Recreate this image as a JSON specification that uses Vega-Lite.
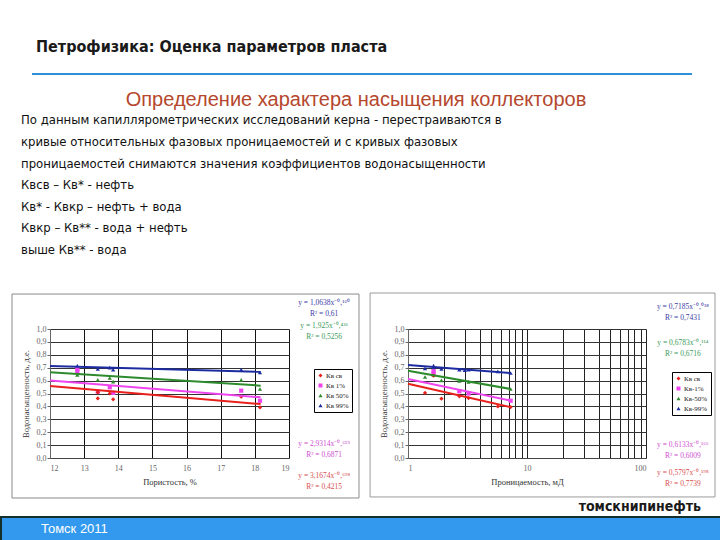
{
  "$schema": "https://vega.github.io/schema/vega-lite/v6.json",
  "padding": {"left": 0, "top": 39, "right": 0, "bottom": 0},
  "background": "white",
  "spacing": 0,
  "resolve": {"scale": {"color": "independent", "shape": "independent", "stroke": "independent"}, "legend": {"color": "independent", "shape": "independent", "stroke": "independent"}},
  "config": {"view": {"stroke": null}, "font": "Liberation Sans", "axis": {"labelOverlap": false}},
  "datasets": {
    "leftPts": [
      {"series": "Кв 99%", "x": 12.8, "y": 0.715},
      {"series": "Кв 99%", "x": 13.4, "y": 0.69},
      {"series": "Кв 99%", "x": 13.75, "y": 0.70},
      {"series": "Кв 99%", "x": 13.85, "y": 0.685},
      {"series": "Кв 99%", "x": 17.6, "y": 0.685},
      {"series": "Кв 99%", "x": 18.15, "y": 0.663},
      {"series": "Кв 50%", "x": 12.8, "y": 0.645},
      {"series": "Кв 50%", "x": 13.4, "y": 0.605},
      {"series": "Кв 50%", "x": 13.75, "y": 0.62},
      {"series": "Кв 50%", "x": 13.85, "y": 0.592},
      {"series": "Кв 50%", "x": 17.6, "y": 0.605},
      {"series": "Кв 50%", "x": 18.15, "y": 0.535},
      {"series": "Кв 1%", "x": 12.8, "y": 0.688},
      {"series": "Кв 1%", "x": 12.8, "y": 0.67},
      {"series": "Кв 1%", "x": 13.4, "y": 0.515},
      {"series": "Кв 1%", "x": 13.75, "y": 0.548},
      {"series": "Кв 1%", "x": 13.85, "y": 0.505},
      {"series": "Кв 1%", "x": 17.6, "y": 0.522},
      {"series": "Кв 1%", "x": 18.15, "y": 0.444},
      {"series": "Кв св", "x": 13.4, "y": 0.509},
      {"series": "Кв св", "x": 13.4, "y": 0.462},
      {"series": "Кв св", "x": 13.75, "y": 0.50},
      {"series": "Кв св", "x": 13.85, "y": 0.455},
      {"series": "Кв св", "x": 17.6, "y": 0.475},
      {"series": "Кв св", "x": 18.15, "y": 0.392}
    ],
    "leftTrend": [
      {"series": "Кв 99%", "x": 12, "y": 0.714},
      {"series": "Кв 99%", "x": 18.17, "y": 0.668},
      {"series": "Кв 50%", "x": 12, "y": 0.665},
      {"series": "Кв 50%", "x": 18.17, "y": 0.561},
      {"series": "Кв 1%", "x": 12, "y": 0.60},
      {"series": "Кв 1%", "x": 18.17, "y": 0.47},
      {"series": "Кв св", "x": 12, "y": 0.558},
      {"series": "Кв св", "x": 18.17, "y": 0.418}
    ],
    "rightPts": [
      {"series": "Кв-99%", "x": 1.39, "y": 0.695},
      {"series": "Кв-99%", "x": 1.64, "y": 0.716},
      {"series": "Кв-99%", "x": 1.64, "y": 0.70},
      {"series": "Кв-99%", "x": 1.91, "y": 0.69},
      {"series": "Кв-99%", "x": 2.7, "y": 0.685},
      {"series": "Кв-99%", "x": 3.0, "y": 0.68},
      {"series": "Кв-99%", "x": 3.23, "y": 0.685},
      {"series": "Кв-99%", "x": 5.69, "y": 0.672},
      {"series": "Кв-99%", "x": 7.28, "y": 0.659},
      {"series": "Кв-50%", "x": 1.39, "y": 0.628},
      {"series": "Кв-50%", "x": 1.64, "y": 0.645},
      {"series": "Кв-50%", "x": 1.91, "y": 0.602},
      {"series": "Кв-50%", "x": 2.7, "y": 0.597},
      {"series": "Кв-50%", "x": 3.23, "y": 0.59},
      {"series": "Кв-50%", "x": 7.28, "y": 0.535},
      {"series": "Кв-1%", "x": 1.64, "y": 0.672},
      {"series": "Кв-1%", "x": 1.64, "y": 0.655},
      {"series": "Кв-1%", "x": 2.7, "y": 0.517},
      {"series": "Кв-1%", "x": 3.23, "y": 0.50},
      {"series": "Кв-1%", "x": 7.28, "y": 0.444},
      {"series": "Кв св", "x": 1.39, "y": 0.504},
      {"series": "Кв св", "x": 1.64, "y": 0.638},
      {"series": "Кв св", "x": 1.91, "y": 0.46},
      {"series": "Кв св", "x": 2.7, "y": 0.478},
      {"series": "Кв св", "x": 3.23, "y": 0.465},
      {"series": "Кв св", "x": 5.69, "y": 0.40},
      {"series": "Кв св", "x": 7.28, "y": 0.395}
    ],
    "rightTrend": [
      {"series": "Кв-99%", "x": 1, "y": 0.721},
      {"series": "Кв-99%", "x": 7.28, "y": 0.659},
      {"series": "Кв-50%", "x": 1, "y": 0.677},
      {"series": "Кв-50%", "x": 7.28, "y": 0.535},
      {"series": "Кв-1%", "x": 1, "y": 0.612},
      {"series": "Кв-1%", "x": 7.28, "y": 0.444},
      {"series": "Кв св", "x": 1, "y": 0.576},
      {"series": "Кв св", "x": 7.28, "y": 0.395}
    ]
  },
  "vconcat": [
    {
      "spacing": 30,
      "hconcat": [
        {"width": 1, "height": 17, "data": {"values": []}, "mark": "point", "encoding": {}},
        {
          "width": 660, "height": 2,
          "view": {"fill": "#2f8fd8", "stroke": null},
          "title": {"text": "Петрофизика: Оценка параметров пласта", "anchor": "start", "dx": 4, "font": "DejaVu Sans Condensed, DejaVu Sans, sans-serif", "fontSize": 16, "fontWeight": "bold", "color": "#1a1a1a", "offset": 18},
          "data": {"values": []}, "mark": "point", "encoding": {}
        }
      ]
    },
    {
      "spacing": 30,
      "hconcat": [
        {"width": 1, "height": 1, "data": {"values": []}, "mark": "point", "encoding": {}},
        {
          "width": 660, "height": 1,
          "title": {"text": "Определение характера насыщения коллекторов", "anchor": "middle", "dx": -6, "font": "Liberation Sans", "fontSize": 20, "fontWeight": "normal", "color": "#b5472d", "offset": 3},
          "data": {"values": []}, "mark": "point", "encoding": {}
        }
      ]
    },
    {
      "width": 660, "height": 33,
      "title": {
        "text": [
          "По данным капиллярометрических исследований керна - перестраиваются в",
          "кривые относительных фазовых проницаемостей и с кривых фазовых",
          "проницаемостей снимаются значения коэффициентов водонасыщенности",
          "Квсв – Кв*  - нефть",
          "Кв* - Квкр – нефть + вода",
          "Квкр – Кв** - вода + нефть",
          "выше Кв**  - вода"
        ],
        "anchor": "start", "dx": 20, "font": "DejaVu Sans Condensed, DejaVu Sans, sans-serif", "fontSize": 13, "lineHeight": 21.6, "fontWeight": "normal", "color": "#111111", "offset": 2
      },
      "data": {"values": []}, "mark": "point", "encoding": {}
    },
    {
      "spacing": 9,
      "resolve": {"scale": {"color": "independent", "shape": "independent", "stroke": "independent"}, "legend": {"color": "independent", "shape": "independent", "stroke": "independent"}},
      "hconcat": [
        {"width": 1, "height": 171, "data": {"values": []}, "mark": "point", "encoding": {}},
        {
          "width": 239, "height": 129,
          "layer": [
            {
              "data": {"values": [{}]},
              "mark": {"type": "rect", "filled": false, "stroke": "#8a8a8a", "strokeWidth": 1, "clip": false},
              "encoding": {"x": {"datum": 10.887}, "x2": {"datum": 21.05}, "y": {"datum": 1.271}, "y2": {"datum": -0.31}}
            },
            {
              "data": {"name": "leftPts"},
              "mark": {"type": "point", "filled": true, "size": 18, "opacity": 1},
              "encoding": {
                "x": {"field": "x", "type": "quantitative", "scale": {"domain": [12, 19], "nice": false, "zero": false},
                  "axis": {"title": "Пористость, %", "values": [12, 13, 14, 15, 16, 17, 18, 19], "tickCount": 8, "format": "d", "labelOverlap": false, "grid": true, "gridColor": "#111111", "gridWidth": 1, "tickSize": 0, "labelPadding": 6, "labelFont": "Liberation Serif", "labelFontSize": 8, "labelColor": "#666666", "titleFont": "Liberation Serif", "titleFontSize": 8.5, "titleFontWeight": "normal", "titleColor": "#333333", "titlePadding": 5, "domainColor": "#444444"}},
                "y": {"field": "y", "type": "quantitative", "scale": {"domain": [0, 1], "nice": false},
                  "axis": {"title": "Водонасыщенность, д.е.", "values": [0, 0.1, 0.2, 0.3, 0.4, 0.5, 0.6, 0.7, 0.8, 0.9, 1], "tickCount": 11, "labelOverlap": false, "labelExpr": "replace(format(datum.value, '.1f'), '.', ',')", "grid": true, "gridColor": "#333333", "gridWidth": 1, "tickSize": 3, "tickColor": "#666666", "labelPadding": 1, "labelFont": "Liberation Serif", "labelFontSize": 8, "labelColor": "#666666", "titleFont": "Liberation Serif", "titleFontSize": 8.5, "titleFontWeight": "normal", "titleColor": "#333333", "titlePadding": 6, "domainColor": "#666666"}},
                "color": {"field": "series", "type": "nominal", "scale": {"domain": ["Кв св", "Кв 1%", "Кв 50%", "Кв 99%"], "range": ["#e8201c", "#ee44ee", "#2d8a2d", "#1c2ca0"]},
                  "legend": {"title": null, "orient": "none", "legendX": 264, "legendY": 40, "strokeColor": "#000000", "fillColor": "#ffffff", "padding": 3, "labelFont": "Liberation Serif", "labelFontSize": 7, "labelColor": "#222222", "symbolSize": 16, "symbolStrokeWidth": 0, "rowPadding": 2, "labelOffset": 2}},
                "shape": {"field": "series", "type": "nominal", "scale": {"domain": ["Кв св", "Кв 1%", "Кв 50%", "Кв 99%"], "range": ["diamond", "square", "triangle-up", "triangle-up"]},
                  "legend": {"title": null, "orient": "none", "legendX": 264, "legendY": 40, "strokeColor": "#000000", "fillColor": "#ffffff", "padding": 3, "labelFont": "Liberation Serif", "labelFontSize": 7, "labelColor": "#222222", "symbolSize": 16, "symbolStrokeWidth": 0, "rowPadding": 2, "labelOffset": 2}}
              }
            },
            {
              "data": {"name": "leftTrend"},
              "mark": {"type": "line", "strokeWidth": 2},
              "encoding": {
                "x": {"field": "x", "type": "quantitative"},
                "y": {"field": "y", "type": "quantitative"},
                "stroke": {"field": "series", "type": "nominal", "scale": {"domain": ["Кв св", "Кв 1%", "Кв 50%", "Кв 99%"], "range": ["#e8201c", "#ee44ee", "#2d8a2d", "#1c2ca0"]},
                  "legend": {"title": null, "orient": "none", "legendX": 264, "legendY": 40, "strokeColor": "#000000", "fillColor": "#ffffff", "padding": 3, "labelFont": "Liberation Serif", "labelFontSize": 7, "labelColor": "#222222", "symbolSize": 16, "symbolStrokeWidth": 0, "rowPadding": 2, "labelOffset": 2}}
              }
            },
            {
              "data": {"values": [{"eq": "y = 1,0638x⁻⁰,¹⁶⁰\nR² = 0,61"}]},
              "mark": {"type": "text", "lineBreak": "\n", "font": "Liberation Serif", "fontSize": 7.5, "lineHeight": 11, "color": "#4040a8", "clip": false},
              "encoding": {"x": {"datum": 20.03}, "y": {"datum": 1.2}, "text": {"field": "eq"}}
            },
            {
              "data": {"values": [{"eq": "y = 1,925x⁻⁰,⁴³⁶\nR² = 0,5256"}]},
              "mark": {"type": "text", "lineBreak": "\n", "font": "Liberation Serif", "fontSize": 7.5, "lineHeight": 11, "color": "#3c9a5a", "clip": false},
              "encoding": {"x": {"datum": 20.03}, "y": {"datum": 1.023}, "text": {"field": "eq"}}
            },
            {
              "data": {"values": [{"eq": "y = 2,9314x⁻⁰,⁶⁵⁵\nR² = 0,6871"}]},
              "mark": {"type": "text", "lineBreak": "\n", "font": "Liberation Serif", "fontSize": 7.5, "lineHeight": 11, "color": "#d050d0", "clip": false},
              "encoding": {"x": {"datum": 20.03}, "y": {"datum": 0.108}, "text": {"field": "eq"}}
            },
            {
              "data": {"values": [{"eq": "y = 3,1674x⁻⁰,⁶⁹⁸\nR² = 0,4215"}]},
              "mark": {"type": "text", "lineBreak": "\n", "font": "Liberation Serif", "fontSize": 7.5, "lineHeight": 11, "color": "#d85050", "clip": false},
              "encoding": {"x": {"datum": 20.03}, "y": {"datum": -0.14}, "text": {"field": "eq"}}
            }
          ]
        },
        {
          "width": 238, "height": 129,
          "layer": [
            {
              "data": {"values": [{}]},
              "mark": {"type": "rect", "filled": false, "stroke": "#9a9a9a", "strokeWidth": 1, "clip": false},
              "encoding": {"x": {"datum": 0.48}, "x2": {"datum": 380}, "y": {"datum": 1.279}, "y2": {"datum": -0.302}}
            },
            {
              "data": {"name": "rightPts"},
              "mark": {"type": "point", "filled": true, "size": 18, "opacity": 1},
              "encoding": {
                "x": {"field": "x", "type": "quantitative", "scale": {"type": "log", "domain": [1, 100], "nice": false},
                  "axis": {"title": "Проницаемость, мД", "values": [1, 2, 3, 4, 5, 6, 7, 8, 9, 10, 20, 30, 40, 50, 60, 70, 80, 90, 100], "format": "d", "labelOverlap": false, "labelExpr": "datum.value == 1 || datum.value == 10 || datum.value == 100 ? datum.label : ''", "grid": true, "gridColor": "#222222", "gridWidth": 1, "tickSize": 0, "labelPadding": 6, "labelFont": "Liberation Serif", "labelFontSize": 8, "labelColor": "#666666", "titleFont": "Liberation Serif", "titleFontSize": 8.5, "titleFontWeight": "normal", "titleColor": "#333333", "titlePadding": 5, "domainColor": "#444444"}},
                "y": {"field": "y", "type": "quantitative", "scale": {"domain": [0, 1], "nice": false},
                  "axis": {"title": "Водонасыщенность, д.е.", "values": [0, 0.1, 0.2, 0.3, 0.4, 0.5, 0.6, 0.7, 0.8, 0.9, 1], "tickCount": 11, "labelOverlap": false, "labelExpr": "replace(format(datum.value, '.1f'), '.', ',')", "grid": true, "gridColor": "#333333", "gridWidth": 1, "tickSize": 3, "tickColor": "#666666", "labelPadding": 1, "labelFont": "Liberation Serif", "labelFontSize": 8, "labelColor": "#666666", "titleFont": "Liberation Serif", "titleFontSize": 8.5, "titleFontWeight": "normal", "titleColor": "#333333", "titlePadding": 6, "domainColor": "#666666"}},
                "color": {"field": "series", "type": "nominal", "scale": {"domain": ["Кв св", "Кв-1%", "Кв-50%", "Кв-99%"], "range": ["#e8201c", "#ee44ee", "#2d8a2d", "#1c2ca0"]},
                  "legend": {"title": null, "orient": "none", "legendX": 264, "legendY": 43, "strokeColor": "#000000", "fillColor": "#ffffff", "padding": 3, "labelFont": "Liberation Serif", "labelFontSize": 7, "labelColor": "#222222", "symbolSize": 16, "symbolStrokeWidth": 0, "rowPadding": 2, "labelOffset": 2}},
                "shape": {"field": "series", "type": "nominal", "scale": {"domain": ["Кв св", "Кв-1%", "Кв-50%", "Кв-99%"], "range": ["diamond", "square", "triangle-up", "triangle-up"]},
                  "legend": {"title": null, "orient": "none", "legendX": 264, "legendY": 43, "strokeColor": "#000000", "fillColor": "#ffffff", "padding": 3, "labelFont": "Liberation Serif", "labelFontSize": 7, "labelColor": "#222222", "symbolSize": 16, "symbolStrokeWidth": 0, "rowPadding": 2, "labelOffset": 2}}
              }
            },
            {
              "data": {"name": "rightTrend"},
              "mark": {"type": "line", "strokeWidth": 2},
              "encoding": {
                "x": {"field": "x", "type": "quantitative"},
                "y": {"field": "y", "type": "quantitative"},
                "stroke": {"field": "series", "type": "nominal", "scale": {"domain": ["Кв св", "Кв-1%", "Кв-50%", "Кв-99%"], "range": ["#e8201c", "#ee44ee", "#2d8a2d", "#1c2ca0"]},
                  "legend": {"title": null, "orient": "none", "legendX": 264, "legendY": 43, "strokeColor": "#000000", "fillColor": "#ffffff", "padding": 3, "labelFont": "Liberation Serif", "labelFontSize": 7, "labelColor": "#222222", "symbolSize": 16, "symbolStrokeWidth": 0, "rowPadding": 2, "labelOffset": 2}}
              }
            },
            {
              "data": {"values": [{"eq": "y = 0,7185x⁻⁰,⁰³⁸\nR² = 0,7431"}]},
              "mark": {"type": "text", "lineBreak": "\n", "font": "Liberation Serif", "fontSize": 7.5, "lineHeight": 11, "color": "#4040a8", "clip": false},
              "encoding": {"x": {"datum": 204}, "y": {"datum": 1.17}, "text": {"field": "eq"}}
            },
            {
              "data": {"values": [{"eq": "y = 0,6783x⁻⁰,¹¹⁴\nR² = 0,6716"}]},
              "mark": {"type": "text", "lineBreak": "\n", "font": "Liberation Serif", "fontSize": 7.5, "lineHeight": 11, "color": "#3c9a5a", "clip": false},
              "encoding": {"x": {"datum": 204}, "y": {"datum": 0.89}, "text": {"field": "eq"}}
            },
            {
              "data": {"values": [{"eq": "y = 0,6133x⁻⁰,¹⁶⁶\nR² = 0,6009"}]},
              "mark": {"type": "text", "lineBreak": "\n", "font": "Liberation Serif", "fontSize": 7.5, "lineHeight": 11, "color": "#d050d0", "clip": false},
              "encoding": {"x": {"datum": 204}, "y": {"datum": 0.10}, "text": {"field": "eq"}}
            },
            {
              "data": {"values": [{"eq": "y = 0,5797x⁻⁰,¹⁹⁸\nR² = 0,7739"}]},
              "mark": {"type": "text", "lineBreak": "\n", "font": "Liberation Serif", "fontSize": 7.5, "lineHeight": 11, "color": "#d85050", "clip": false},
              "encoding": {"x": {"datum": 204}, "y": {"datum": -0.116}, "text": {"field": "eq"}}
            }
          ]
        }
      ]
    },
    {
      "width": 720, "height": 1,
      "title": {"text": "томскнипинефть", "anchor": "end", "dx": -20, "font": "DejaVu Sans Condensed, DejaVu Sans, sans-serif", "fontSize": 14, "fontWeight": "bold", "color": "#1a1a1a", "offset": 1},
      "data": {"values": []}, "mark": "point", "encoding": {}
    },
    {
      "width": 720, "height": 24,
      "view": {"fill": "#3399ee", "stroke": "#15302a", "strokeWidth": 2},
      "title": {"text": "Томск 2011", "orient": "bottom", "anchor": "start", "dx": 40, "offset": -18, "font": "Liberation Sans", "fontSize": 13, "fontWeight": "normal", "color": "#ffffff"},
      "data": {"values": []}, "mark": "point", "encoding": {}
    }
  ]
}
